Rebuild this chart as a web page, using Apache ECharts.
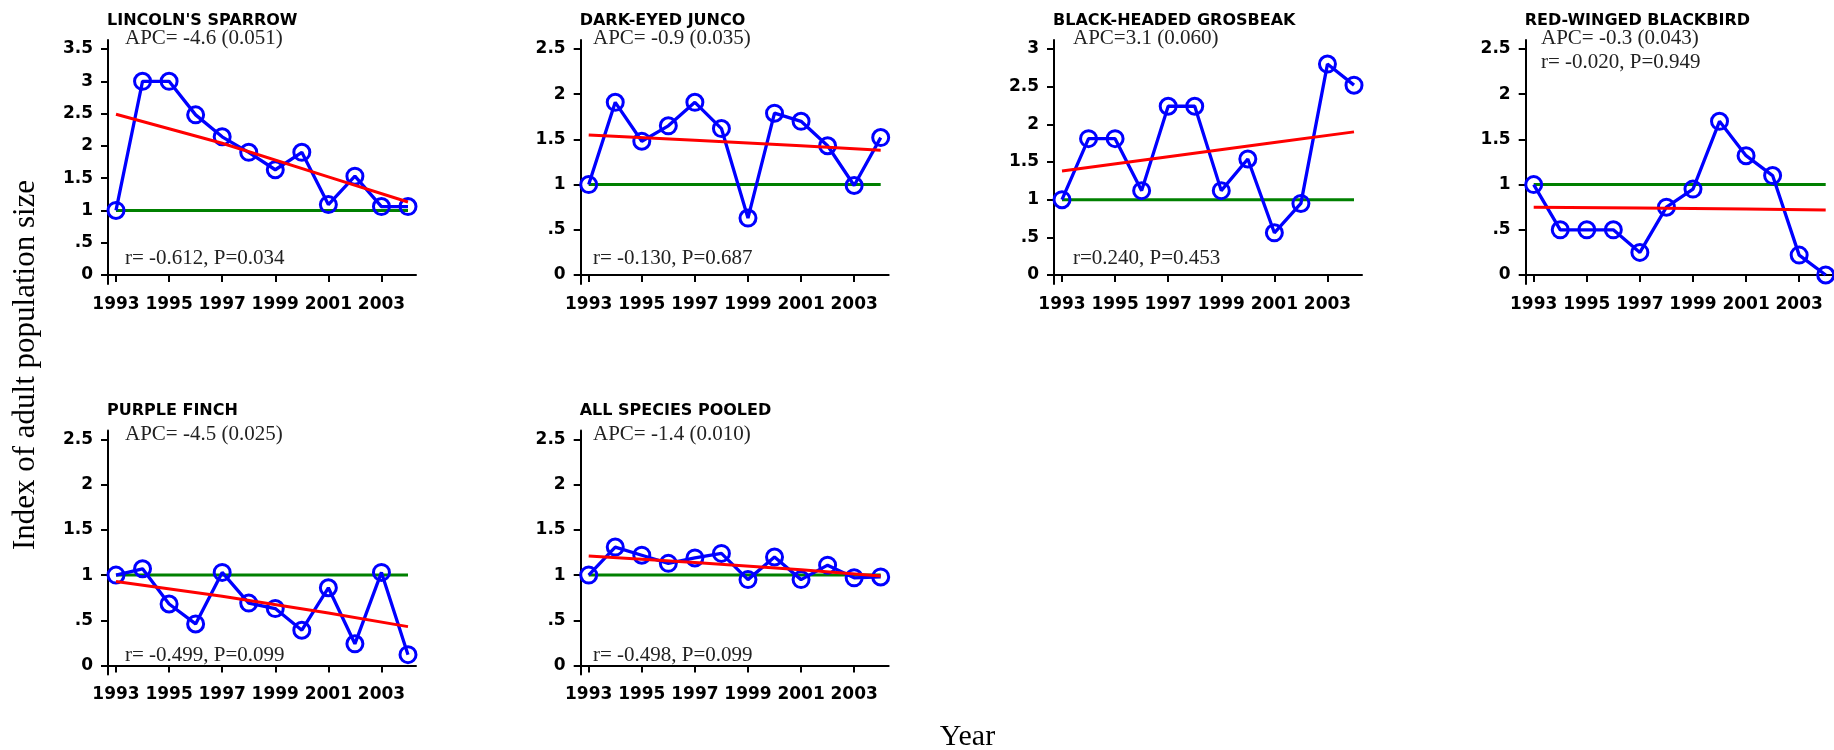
<!DOCTYPE html>
<html><head><meta charset="utf-8">
<script src="https://cdn.jsdelivr.net/npm/echarts@6/dist/echarts.min.js"></script>
<style>html,body{margin:0;padding:0;background:#fff}#c{width:1834px;height:750px}</style>
</head><body><div id="c"></div>
<script>
// ---------- data ----------
const years = [1993,1994,1995,1996,1997,1998,1999,2000,2001,2002,2003,2004];
const speciesNames = ["LINCOLN'S SPARROW","DARK-EYED JUNCO","BLACK-HEADED GROSBEAK","RED-WINGED BLACKBIRD","PURPLE FINCH","ALL SPECIES POOLED"];

const lincolnsSparrow   = [1.00,3.00,3.00,2.48,2.14,1.90,1.63,1.90,1.09,1.53,1.06,1.06];
const darkEyedJunco     = [1.00,1.91,1.48,1.65,1.91,1.62,0.63,1.79,1.70,1.43,0.99,1.52];
const blackHeadedGrosbeak = [1.00,1.81,1.81,1.12,2.24,2.24,1.12,1.54,0.56,0.95,2.80,2.52];
const redWingedBlackbird  = [1.00,0.50,0.50,0.50,0.25,0.75,0.95,1.70,1.32,1.10,0.22,0.00];
const purpleFinch       = [1.00,1.07,0.68,0.46,1.03,0.69,0.63,0.39,0.86,0.24,1.03,0.12];
const allSpeciesPooled  = [1.00,1.31,1.22,1.13,1.19,1.24,0.95,1.20,0.95,1.11,0.97,0.98];

// fitted trend lines, read at these years
const trendYears = [1993,1997,2001,2004];
const lincolnsTrend  = [2.49,2.04,1.52,1.13];
const juncoTrend     = [1.55,1.49,1.43,1.38];
const grosbeakTrend  = [1.38,1.57,1.76,1.90];
const blackbirdTrend = [0.75,0.74,0.73,0.72];
const finchTrend     = [0.93,0.765,0.58,0.43];
const pooledTrend    = [1.21,1.14,1.06,0.99];

// reference line at index 1
const refYears = [1993,2004];
const refValues = [1,1];

const apcLabels = ["APC= -4.6 (0.051)","APC= -0.9 (0.035)","APC=3.1 (0.060)","APC= -0.3 (0.043)","APC= -4.5 (0.025)","APC= -1.4 (0.010)"];
const rLabels = ["r= -0.612, P=0.034","r= -0.130, P=0.687","r=0.240, P=0.453","r= -0.020, P=0.949","r= -0.499, P=0.099","r= -0.498, P=0.099"];

const yTopTicks = [3.5,2.5,3,2.5,2.5,2.5];
const xTickLabels = [1993,1995,1997,1999,2001,2003];
const yAxisTitle = "Index of adult population size";
const xAxisTitle = "Year";

const seriesValues = [lincolnsSparrow,darkEyedJunco,blackHeadedGrosbeak,redWingedBlackbird,purpleFinch,allSpeciesPooled];
const trendValues = [lincolnsTrend,juncoTrend,grosbeakTrend,blackbirdTrend,finchTrend,pooledTrend];

// ---------- layout ----------
const panelLeft = [108,580.7,1054,1525.7,108,580.7];
const panelTop  = [40,40,40,40,430.5,430.5];
const gridW = 308, gridH = 244, dataH = 226, xPad = 8, xSpan = 292;
const apcPos = [[125,38.5],[593,38.5],[1073,38.5],[1541,38.5],[125,434],[593,434]];
const rPos   = [[125,258],[593,258],[1073,258],[1541,62],[125,655.5],[593,655.5]];

const BLUE='#0000ff', RED='#ff0000', GREEN='#008000';
const tickFont = {fontFamily:'DejaVu Sans',fontWeight:'bold',fontSize:17,color:'#000'};

const grids=[], xAxes=[], yAxes=[], series=[], graphics=[];
for (let i=0;i<6;i++){
  grids.push({left:panelLeft[i],top:panelTop[i],width:gridW,height:gridH,containLabel:false});
  const perYr = xSpan/11;
  xAxes.push({type:'value',gridIndex:i,min:1993-xPad/perYr,max:2004+xPad/perYr,
    splitLine:{show:false},
    axisLine:{show:true,lineStyle:{color:'#000',width:2}},
    axisTick:{show:true,length:7,lineStyle:{color:'#000',width:2},customValues:xTickLabels},
    axisLabel:Object.assign({margin:12,customValues:xTickLabels,formatter:v=>String(v)},tickFont)});
  const T=yTopTicks[i], ext=T*(gridH-dataH)/2/dataH;
  const yt=[]; for(let v=0;v<=T+1e-9;v+=0.5) yt.push(Math.round(v*10)/10);
  yAxes.push({type:'value',gridIndex:i,min:-ext,max:T+ext,
    splitLine:{show:false},
    axisLine:{show:true,lineStyle:{color:'#000',width:2}},
    axisTick:{show:true,length:7,lineStyle:{color:'#000',width:2},customValues:yt},
    axisLabel:Object.assign({margin:15,padding:[7,0,0,0],customValues:yt,formatter:v=>{let s=String(Math.round(v*10)/10);return s.replace(/^0\./,'.');}},tickFont)});
  series.push({type:'line',xAxisIndex:i,yAxisIndex:i,z:1,symbol:'none',silent:true,
    data:refYears.map((y,k)=>[y,refValues[k]]),lineStyle:{color:GREEN,width:3}});
  series.push({type:'line',xAxisIndex:i,yAxisIndex:i,z:2,symbol:'circle',symbolSize:16,silent:true,
    data:years.map((y,k)=>[y,seriesValues[i][k]]),
    itemStyle:{color:'rgba(0,0,0,0)',borderColor:BLUE,borderWidth:3},
    lineStyle:{color:BLUE,width:3.3}});
  series.push({type:'line',xAxisIndex:i,yAxisIndex:i,z:3,symbol:'none',silent:true,
    data:trendYears.map((y,k)=>[y,trendValues[i][k]]),lineStyle:{color:RED,width:3}});
  // species title
  graphics.push({type:'text',x:panelLeft[i]-1,y:panelTop[i]-19.5,style:{text:speciesNames[i],fontFamily:'DejaVu Sans',fontWeight:'bold',fontSize:16,fill:'#000',align:'left',verticalAlign:'middle'}});
  graphics.push({type:'text',x:apcPos[i][0],y:apcPos[i][1],style:{text:apcLabels[i],fontFamily:'Liberation Serif',fontSize:21,fill:'#222',align:'left',verticalAlign:'middle'}});
  graphics.push({type:'text',x:rPos[i][0],y:rPos[i][1],style:{text:rLabels[i],fontFamily:'Liberation Serif',fontSize:21,fill:'#222',align:'left',verticalAlign:'middle'}});
}
graphics.push({type:'text',x:26,y:365,rotation:Math.PI/2,style:{text:yAxisTitle,fontFamily:'Liberation Serif',fontSize:31,fill:'#000',align:'center',verticalAlign:'middle'}});
graphics.push({type:'text',x:967.5,y:737,style:{text:xAxisTitle,fontFamily:'Liberation Serif',fontSize:30,fill:'#000',align:'center',verticalAlign:'middle'}});

const chart = echarts.init(document.getElementById('c'),null,{renderer:'canvas'});
chart.setOption({animation:false,backgroundColor:'#fff',grid:grids,xAxis:xAxes,yAxis:yAxes,series:series,graphic:graphics});
</script></body></html>
